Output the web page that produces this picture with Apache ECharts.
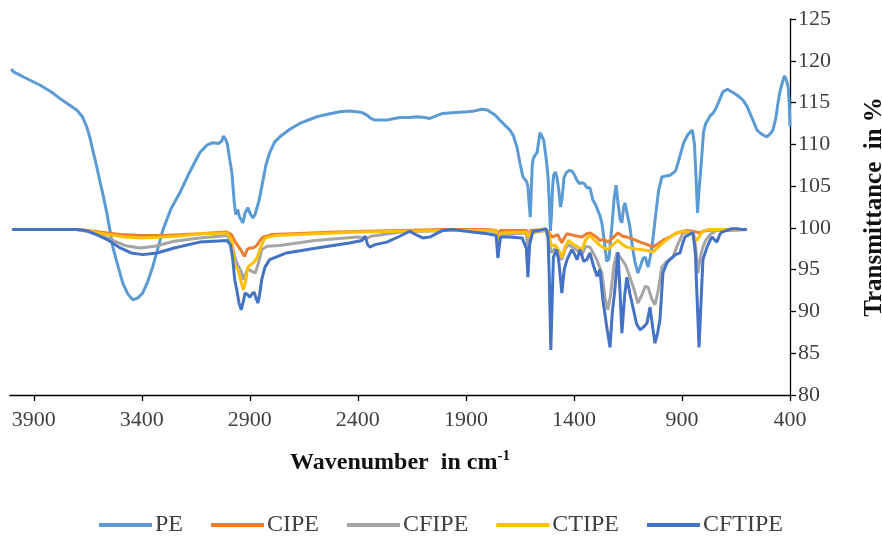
<!DOCTYPE html>
<html>
<head>
<meta charset="utf-8">
<script src="https://cdn.jsdelivr.net/npm/echarts@6/dist/echarts.min.js"></script>
<style>
  html, body { margin: 0; padding: 0; background: #fff; }
  #chart { width: 882px; height: 546px; }
</style>
</head>
<body>
<div id="chart"></div>
<script>
// FTIR spectra, [wavenumber cm-1, transmittance %]
const seriesNames = ["PE", "CIPE", "CFIPE", "CTIPE", "CFTIPE"];
const xTicks = [3900, 3400, 2900, 2400, 1900, 1400, 900, 400];
const yTicks = [80, 85, 90, 95, 100, 105, 110, 115, 120, 125];

const PE = [
  [4005,119.0],[3990,118.6],[3965,118.3],[3920,117.7],[3872,117.1],[3820,116.3],[3780,115.5],[3740,114.8],
  [3701,114.1],[3675,113.3],[3655,112.1],[3640,110.8],[3627,109.3],[3610,107.5],[3595,105.7],[3578,103.8],
  [3562,101.8],[3548,99.8],[3534,97.7],[3510,95.4],[3488,93.4],[3465,92.1],[3442,91.4],[3420,91.6],
  [3396,92.2],[3372,93.6],[3350,95.3],[3325,97.6],[3303,99.7],[3265,102.3],[3224,104.2],[3180,106.6],
  [3132,109.0],[3099,109.9],[3071,110.2],[3045,110.1],[3030,110.4],[3022,111.0],[3012,110.6],[3004,110.0],
  [2992,108.0],[2983,106.6],[2972,103.0],[2965,101.6],[2956,102.2],[2948,101.3],[2940,101.0],[2932,100.6],
  [2922,101.8],[2909,102.4],[2898,101.7],[2886,101.2],[2876,101.6],[2868,101.8],[2858,103.2],[2845,104.9],
  [2826,107.5],[2808,109.0],[2785,110.3],[2761,110.9],[2715,111.8],[2669,112.5],[2620,113.0],[2590,113.3],
  [2540,113.6],[2484,113.9],[2440,114.0],[2405,113.9],[2380,113.8],[2358,113.5],[2340,113.1],[2321,112.9],
  [2290,112.9],[2266,112.9],[2230,113.1],[2206,113.2],[2160,113.2],[2127,113.3],[2090,113.2],[2067,113.1],
  [2030,113.5],[2007,113.7],[1950,113.8],[1895,113.9],[1860,114.0],[1826,114.2],[1800,114.1],[1789,113.9],
  [1765,113.5],[1743,112.9],[1720,112.3],[1696,111.7],[1680,111.0],[1664,109.7],[1650,107.8],[1636,106.1],
  [1620,105.6],[1613,105.0],[1606,102.5],[1602,101.3],[1598,104.0],[1593,107.5],[1588,108.3],[1580,108.7],
  [1571,109.0],[1562,110.5],[1557,111.4],[1548,111.2],[1540,110.5],[1532,109.0],[1525,107.5],[1520,106.1],
  [1514,103.0],[1509,99.6],[1504,101.5],[1499,104.8],[1494,106.3],[1486,106.7],[1479,106.1],[1470,104.5],
  [1462,102.5],[1455,103.5],[1446,106.0],[1436,106.6],[1420,106.9],[1405,106.7],[1395,106.2],[1386,105.7],
  [1375,105.3],[1363,105.4],[1352,105.3],[1340,104.8],[1326,104.8],[1312,103.3],[1300,102.8],[1290,102.1],
  [1280,101.5],[1270,100.5],[1260,98.5],[1248,96.0],[1238,96.3],[1225,100.0],[1214,103.5],[1205,105.1],
  [1196,103.0],[1186,101.0],[1178,100.6],[1170,102.5],[1164,103.0],[1152,101.5],[1141,100.1],[1128,97.5],
  [1118,96.0],[1104,94.6],[1094,95.3],[1081,96.3],[1070,96.5],[1057,95.3],[1046,96.6],[1035,98.5],
  [1022,101.5],[1008,104.5],[993,106.1],[975,106.2],[955,106.3],[930,106.8],[918,107.8],[905,109.0],
  [892,110.2],[872,111.2],[852,111.7],[842,110.0],[834,105.5],[828,101.8],[821,104.5],[812,107.3],
  [800,111.5],[790,112.5],[770,113.4],[757,113.7],[745,114.2],[733,114.9],[720,115.7],[710,116.3],
  [690,116.6],[664,116.2],[640,115.8],[618,115.3],[600,114.6],[585,113.7],[570,112.8],[553,111.7],
  [530,111.2],[507,110.9],[490,111.3],[479,111.7],[465,113.2],[456,114.9],[445,116.5],[432,117.7],
  [425,118.2],[416,117.6],[408,116.8],[403,114.5],[400,112.1]
];

const CIPE = [
  [4000,99.8],[3700,99.8],[3650,99.7],[3560,99.4],[3500,99.2],[3400,99.1],[3300,99.1],[3132,99.3],
  [3006,99.5],[2985,99.2],[2965,98.2],[2945,97.5],[2925,96.6],[2912,97.4],[2900,97.6],[2885,97.6],
  [2868,97.9],[2855,98.4],[2840,98.9],[2800,99.2],[2700,99.3],[2500,99.5],[2360,99.6],[2200,99.7],
  [2000,99.8],[1800,99.8],[1760,99.7],[1752,99.2],[1740,99.7],[1620,99.7],[1613,99.2],[1600,99.7],
  [1530,99.8],[1515,99.4],[1500,98.9],[1475,99.2],[1456,98.2],[1440,99.0],[1432,99.3],[1400,99.1],
  [1363,98.9],[1340,99.3],[1326,99.4],[1300,99.0],[1280,98.5],[1260,98.6],[1243,98.3],[1220,98.8],
  [1196,99.4],[1175,99.0],[1155,98.9],[1120,98.6],[1094,98.3],[1060,98.0],[1034,97.7],[1010,98.1],
  [988,98.5],[950,99.0],[923,99.4],[880,99.7],[850,99.6],[817,99.4],[800,99.6],[780,99.7],
  [740,99.8],[700,99.7],[600,99.8]
];

const CFIPE = [
  [4000,99.8],[3700,99.8],[3640,99.5],[3560,98.8],[3480,97.9],[3410,97.6],[3340,97.8],[3250,98.4],
  [3132,98.8],[3006,99.1],[2985,98.3],[2970,96.5],[2955,95.5],[2940,94.8],[2930,93.8],[2915,94.8],
  [2905,95.0],[2890,94.8],[2875,94.6],[2860,95.8],[2845,97.4],[2820,97.8],[2761,97.9],[2600,98.5],
  [2400,98.9],[2360,98.7],[2340,99.0],[2200,99.5],[2000,99.7],[1800,99.7],[1760,99.5],[1752,97.8],
  [1740,99.2],[1620,99.4],[1613,97.0],[1600,99.4],[1530,99.7],[1515,98.5],[1505,97.0],[1490,97.5],
  [1475,97.0],[1456,96.2],[1440,97.5],[1425,98.0],[1400,97.6],[1363,96.8],[1345,97.8],[1326,97.7],
  [1294,96.2],[1270,94.5],[1255,91.5],[1243,90.2],[1230,92.0],[1215,95.5],[1201,97.0],[1178,96.2],
  [1160,95.5],[1141,94.1],[1120,92.5],[1104,91.0],[1085,92.0],[1070,93.0],[1057,92.9],[1040,91.5],
  [1025,90.8],[1010,92.5],[993,95.3],[970,96.0],[942,96.5],[920,98.0],[895,99.4],[850,99.4],
  [838,98.0],[826,94.6],[815,96.5],[803,97.7],[790,98.5],[770,99.2],[740,99.7],[600,99.8]
];

const CTIPE = [
  [4000,99.8],[3700,99.8],[3640,99.6],[3560,99.2],[3480,98.9],[3400,98.8],[3300,98.9],[3200,99.1],
  [3132,99.3],[3006,99.4],[2985,98.6],[2970,95.5],[2955,95.0],[2940,93.5],[2930,92.6],[2920,93.5],
  [2910,95.3],[2895,95.6],[2880,95.9],[2865,96.5],[2850,97.7],[2830,98.8],[2780,99.1],[2600,99.3],
  [2400,99.5],[2200,99.6],[2000,99.7],[1800,99.7],[1760,99.6],[1752,98.2],[1740,99.4],[1620,99.5],
  [1613,98.9],[1600,99.5],[1530,99.7],[1515,99.2],[1505,97.8],[1490,98.0],[1475,97.5],[1456,96.5],
  [1440,97.8],[1425,98.5],[1400,98.0],[1363,97.4],[1345,98.6],[1326,99.1],[1300,98.4],[1280,97.9],
  [1260,97.6],[1243,97.4],[1220,98.0],[1196,98.5],[1175,98.0],[1155,97.7],[1120,97.5],[1094,97.4],
  [1060,97.3],[1034,97.1],[1010,97.7],[988,98.2],[950,99.0],[923,99.4],[880,99.6],[850,99.3],
  [831,98.5],[815,99.2],[803,99.6],[780,99.8],[740,99.8],[600,99.8]
];

const CFTIPE = [
  [4000,99.8],[3700,99.8],[3660,99.7],[3620,99.3],[3560,98.6],[3500,97.6],[3450,97.0],[3395,96.8],
  [3330,97.0],[3250,97.6],[3132,98.3],[3006,98.5],[2990,98.0],[2980,96.5],[2970,93.8],[2960,92.5],
  [2950,91.0],[2940,90.2],[2930,91.2],[2922,92.2],[2910,92.0],[2900,91.7],[2890,92.1],[2880,92.3],
  [2870,91.5],[2862,91.0],[2855,92.0],[2845,93.8],[2830,95.3],[2808,96.2],[2730,97.0],[2590,97.6],
  [2440,98.2],[2380,98.5],[2366,99.0],[2355,98.0],[2345,97.7],[2320,98.0],[2266,98.3],[2206,99.0],
  [2160,99.6],[2140,99.3],[2100,98.8],[2067,98.9],[2030,99.4],[2007,99.7],[1960,99.8],[1900,99.6],
  [1800,99.3],[1760,99.1],[1752,96.4],[1740,98.9],[1700,98.9],[1640,98.8],[1620,97.5],[1613,94.1],
  [1605,98.0],[1590,99.6],[1560,99.7],[1530,99.9],[1520,99.0],[1514,94.0],[1507,85.4],[1500,92.0],
  [1495,96.5],[1480,97.4],[1470,96.0],[1456,92.2],[1445,95.0],[1432,96.2],[1410,97.4],[1400,97.0],
  [1385,96.2],[1372,97.4],[1355,96.0],[1340,96.2],[1326,97.0],[1310,95.5],[1293,94.2],[1280,95.0],
  [1266,91.4],[1250,88.5],[1233,85.7],[1222,90.0],[1212,92.2],[1196,97.1],[1186,92.0],[1178,87.4],
  [1165,92.0],[1155,94.1],[1140,92.0],[1127,90.5],[1110,88.5],[1094,87.8],[1075,88.2],[1062,88.6],
  [1048,90.5],[1035,88.0],[1025,86.2],[1012,87.5],[1002,89.0],[988,94.6],[970,95.8],[956,96.2],
  [930,96.8],[909,97.0],[895,98.3],[886,98.9],[860,99.3],[849,99.4],[838,97.0],[831,92.2],
  [821,85.7],[812,91.0],[803,96.2],[784,97.7],[770,98.5],[761,98.9],[750,98.6],[738,98.3],
  [725,99.2],[715,99.5],[692,99.7],[670,99.9],[645,99.9],[620,99.8],[600,99.8]
];

const seriesData = [PE, CIPE, CFIPE, CTIPE, CFTIPE];
const colors = ["#5B9BD5", "#ED7D31", "#A5A5A5", "#FFC000", "#4472C4"];

const font = "Liberation Serif";
const chart = echarts.init(document.getElementById("chart"));

chart.setOption({
  animation: false,
  color: colors,
  textStyle: { fontFamily: font },
  grid: { left: 10, right: 92, top: 19, bottom: 151, containLabel: false, outerBoundsMode: "none" },
  legend: {
    data: seriesNames,
    left: "center",
    top: 508,
    icon: "rect",
    itemWidth: 53,
    itemHeight: 4,
    itemGap: 28,
    textStyle: { fontFamily: font, fontSize: 24, color: "#404040", padding: [0, 0, 0, -2] }
  },
  xAxis: {
    type: "value",
    inverse: true,
    min: 400,
    max: 4010,
    interval: 500,
    splitLine: { show: false },
    axisLine: { lineStyle: { color: "#000", width: 1.3 } },
    axisTick: { customValues: xTicks, length: 6, lineStyle: { color: "#000", width: 1.3 } },
    axisLabel: {
      customValues: xTicks, margin: 14, fontSize: 22, color: "#404040", fontFamily: font,
      formatter: (v) => String(v)
    },
    name: "{a|Wavenumber  in cm}{s|-1}",
    nameLocation: "middle",
    nameGap: 54,
    nameTextStyle: {
      rich: {
        a: { fontFamily: font, fontSize: 24, fontWeight: "bold", color: "#111" },
        s: { fontFamily: font, fontSize: 15, fontWeight: "bold", color: "#111", verticalAlign: "top", padding: [0, 0, 12, 0] }
      }
    }
  },
  yAxis: {
    type: "value",
    position: "right",
    min: 80,
    max: 125,
    interval: 5,
    splitLine: { show: false },
    axisLine: { show: true, lineStyle: { color: "#000", width: 1.3 } },
    axisTick: { show: true, length: 6, lineStyle: { color: "#000", width: 1.3 } },
    axisLabel: {
      customValues: yTicks, margin: 8, fontSize: 22, color: "#404040", fontFamily: font,
      formatter: (v) => String(v)
    },
    name: "Transmittance  in %",
    nameLocation: "middle",
    nameRotate: 90,
    nameGap: 72,
    nameTextStyle: { fontFamily: font, fontSize: 25, fontWeight: "bold", color: "#111" }
  },
  series: seriesNames.map((name, i) => ({
    name: name,
    type: "line",
    data: seriesData[i],
    showSymbol: false,
    symbol: "none",
    lineStyle: { width: 3, color: colors[i] },
    itemStyle: { color: colors[i] }
  }))
});
</script>
</body>
</html>
